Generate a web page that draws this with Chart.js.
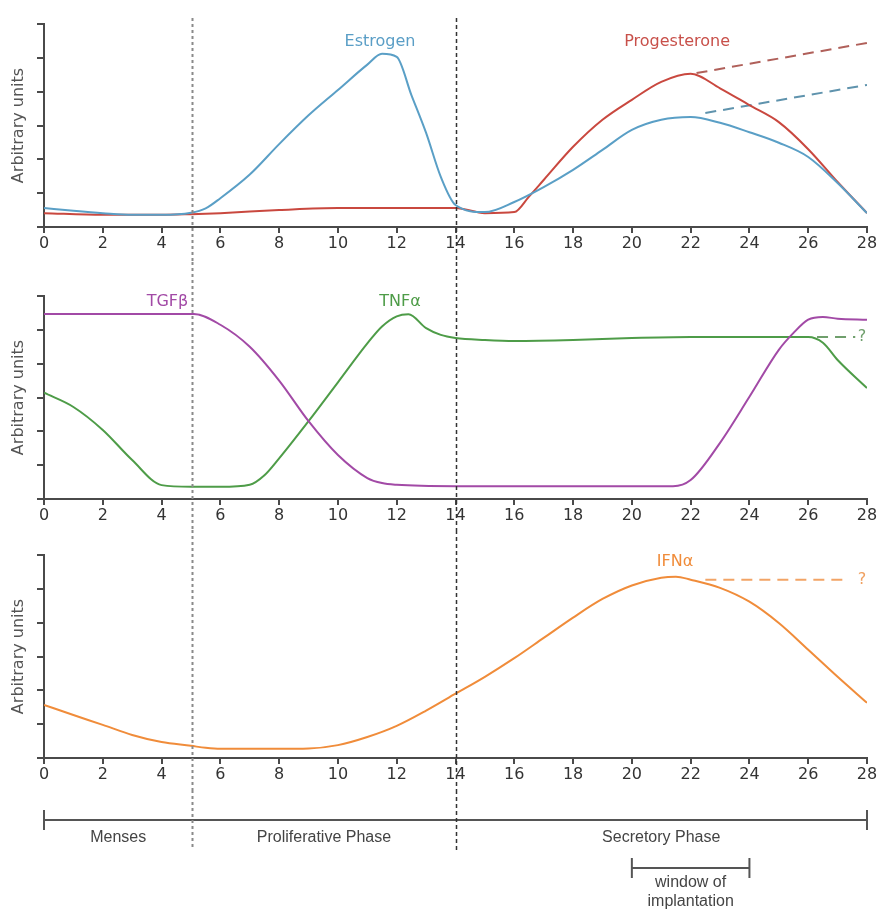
<!DOCTYPE html>
<html><head><meta charset="utf-8">
<script src="https://cdn.jsdelivr.net/npm/chart.js@4/dist/chart.umd.min.js"></script>
<style>
html,body{margin:0;padding:0;background:#fff;width:881px;height:913px;overflow:hidden}
canvas{position:absolute;left:0;display:block}
</style></head><body>
<canvas id="c1" style="top:0px" width="881" height="262"></canvas>
<canvas id="c2" style="top:262px" width="881" height="268"></canvas>
<canvas id="c3" style="top:530px" width="881" height="260"></canvas>
<canvas id="c4" style="top:790px" width="881" height="123"></canvas>
<script>
// ---------- data (day of cycle, arbitrary units 0..6) ----------
const estrogenX = [0,1,2,3,4,5,5.5,6,7,8,9,10,11,11.5,12,12.5,13,13.5,14,15,16,17,18,19,20,21,22,23,24,25,26,27,28];
const estrogenY = [0.56,0.48,0.41,0.36,0.36,0.42,0.55,0.85,1.55,2.45,3.3,4.05,4.8,5.12,5.03,3.9,2.78,1.48,0.65,0.44,0.74,1.18,1.69,2.28,2.87,3.17,3.25,3.08,2.8,2.49,2.07,1.30,0.41];
const estrogenDashX = [22.5,28];
const estrogenDashY = [3.37,4.2];

const progesteroneX = [0,2,4,5,6,8,10,12,14,15,16,16.5,17,18,19,20,21,22,23,24,25,26,27,28];
const progesteroneY = [0.41,0.36,0.36,0.38,0.41,0.5,0.56,0.56,0.56,0.41,0.44,0.9,1.39,2.37,3.17,3.76,4.29,4.53,4.1,3.6,3.1,2.3,1.33,0.41];
const progesteroneDashX = [22.2,28];
const progesteroneDashY = [4.55,5.44];

const tgfX = [0,2,4,5.1,6,7,8,9,10,11,11.5,12,14,16,18,20,21.4,22,23,24,25,25.5,26,26.5,27,28];
const tgfY = [5.47,5.47,5.47,5.47,5.15,4.5,3.5,2.3,1.3,0.62,0.47,0.42,0.38,0.38,0.38,0.38,0.38,0.56,1.66,3.02,4.41,4.91,5.3,5.38,5.33,5.3];

const tnfX = [0,1,2,3,4,5,6,7,7.5,8,9,10,11,11.5,12,12.4,13,13.5,14,15,16,18,20,22,24,26,26.5,27,28];
const tnfY = [3.14,2.72,2.04,1.15,0.41,0.36,0.36,0.42,0.7,1.2,2.3,3.45,4.6,5.1,5.4,5.46,5.05,4.85,4.76,4.7,4.67,4.7,4.76,4.79,4.79,4.79,4.62,4.11,3.28];
const tnfDashX = [26.3,27.6];
const tnfDashY = [4.79,4.79];

const ifnX = [0,1,2,3,4,5,5.5,6,7,8,9,10,11,12,13,14,15,16,17,18,19,20,21,21.5,22,23,24,25,26,27,28];
const ifnY = [1.57,1.27,0.98,0.68,0.47,0.36,0.30,0.27,0.27,0.27,0.28,0.38,0.62,0.95,1.4,1.9,2.4,2.95,3.55,4.15,4.7,5.1,5.33,5.36,5.27,5.03,4.62,3.99,3.2,2.4,1.63];
const ifnDashX = [22.5,27.4];
const ifnDashY = [5.27,5.27];

const phaseNames = ['Menses','Proliferative Phase','Secretory Phase'];
const phaseBounds = [0,5.05,14,28];
const windowDays = [20,24];
const windowText = ['window of','implantation'];
const xTickStep = 2;

// ---------- helpers ----------
const pts = (xs, ys) => xs.map((x, i) => ({x, y: ys[i]}));
const AXIS = '#4a4a4a';
const FONT = 'DejaVu Sans';

function solid(xs, ys, color) {
  return {data: pts(xs, ys), borderColor: color, borderWidth: 2, pointRadius: 0,
          tension: 0.4, cubicInterpolationMode: 'monotone', fill: false};
}
function dashed(xs, ys, color) {
  return {data: pts(xs, ys), borderColor: color, borderWidth: 2, pointRadius: 0,
          borderDash: [11, 7], tension: 0, fill: false};
}

function phaseLines(chart, y0, y1) {
  const ctx = chart.ctx, xs = chart.scales.x;
  ctx.save();
  let px = Math.round(xs.getPixelForValue(phaseBounds[1])) + 0.5;
  ctx.strokeStyle = '#8a8a8a'; ctx.lineWidth = 2; ctx.setLineDash([3, 3]);
  ctx.beginPath(); ctx.moveTo(px, y0); ctx.lineTo(px, y1); ctx.stroke();
  px = Math.round(xs.getPixelForValue(phaseBounds[2])) + 0.5;
  ctx.strokeStyle = '#333'; ctx.lineWidth = 1.5; ctx.setLineDash([4, 3]);
  ctx.beginPath(); ctx.moveTo(px, y0); ctx.lineTo(px, y1); ctx.stroke();
  ctx.restore();
}

function overlay(labels, y0, y1) {
  return {
    id: 'overlay',
    afterDraw(chart) {
      phaseLines(chart, y0, y1);
      const ctx = chart.ctx, xs = chart.scales.x, ys = chart.scales.y;
      ctx.save();
      ctx.textAlign = 'center'; ctx.textBaseline = 'middle';
      labels.forEach(l => {
        ctx.fillStyle = l.color;
        ctx.font = (l.weight || 'normal') + ' ' + (l.size || 16) + 'px "' + FONT + '"';
        ctx.fillText(l.text, xs.getPixelForValue(l.x), ys.getPixelForValue(l.y));
      });
      ctx.restore();
    }
  };
}

function makePanel(id, datasets, labels, cfg) {
  return new Chart(document.getElementById(id), {
    type: 'line',
    data: {datasets},
    options: {
      responsive: false, animation: false, devicePixelRatio: 1,
      layout: {padding: {top: cfg.top, right: 14, left: 0, bottom: 0}},
      plugins: {legend: {display: false}, tooltip: {enabled: false}},
      scales: {
        x: {
          type: 'linear', min: 0, max: 28,
          afterFit: s => { s.height = cfg.xh; },
          ticks: {stepSize: xTickStep, color: '#333', font: {family: FONT, size: 16}, padding: 1, maxRotation: 0, autoSkip: false},
          grid: {display: true, drawOnChartArea: false, drawTicks: true, tickLength: 6, color: AXIS, lineWidth: 2},
          border: {display: true, color: AXIS, width: 2}
        },
        y: {
          type: 'linear', min: 0, max: 6,
          afterFit: s => { s.width = 44; },
          ticks: {stepSize: 1, display: false},
          grid: {display: true, drawOnChartArea: false, drawTicks: true, tickLength: 7, color: AXIS, lineWidth: 2},
          border: {display: true, color: AXIS, width: 2},
          title: {display: true, text: 'Arbitrary units', color: '#555', font: {family: FONT, size: 16}, padding: {top: 9, bottom: 0}}
        }
      }
    },
    plugins: [overlay(labels, cfg.y0, cfg.y1)]
  });
}

// ---------- panel 1: hormones ----------
makePanel('c1', [
  solid(estrogenX, estrogenY, '#5a9fc6'),
  solid(progesteroneX, progesteroneY, '#c9483f'),
  dashed(progesteroneDashX, progesteroneDashY, '#b0605a'),
  dashed(estrogenDashX, estrogenDashY, '#5f93ad')
], [
  {text: 'Estrogen', x: 11.43, y: 5.47, color: '#5a9ec6'},
  {text: 'Progesterone', x: 21.54, y: 5.47, color: '#c8504a'}
], {top: 24, xh: 35, y0: 18, y1: 262});

// ---------- panel 2: TGFβ / TNFα ----------
makePanel('c2', [
  solid(tgfX, tgfY, '#a24aa6'),
  solid(tnfX, tnfY, '#4e9c48'),
  dashed(tnfDashX, tnfDashY, '#6f9f6c')
], [
  {text: 'TGFβ', x: 4.2, y: 5.83, color: '#a24aa6'},
  {text: 'TNFα', x: 12.11, y: 5.83, color: '#4e9c48'},
  {text: '?', x: 27.83, y: 4.79, color: '#6f9f6c'}
], {top: 34, xh: 31, y0: 0, y1: 268});

// ---------- panel 3: IFNα ----------
makePanel('c3', [
  solid(ifnX, ifnY, '#f08c3a'),
  dashed(ifnDashX, ifnDashY, '#f2a466')
], [
  {text: 'IFNα', x: 21.47, y: 5.8, color: '#f08c3a'},
  {text: '?', x: 27.83, y: 5.27, color: '#f0a060'}
], {top: 25, xh: 32, y0: 0, y1: 260});

// ---------- timeline ----------
new Chart(document.getElementById('c4'), {
  type: 'line',
  data: {datasets: [
    {data: pts([phaseBounds[0], phaseBounds[3]], [0, 0]), borderColor: '#555', borderWidth: 2, tension: 0,
     pointStyle: 'line', pointRotation: 90, pointRadius: 10, pointBorderWidth: 2, pointBorderColor: '#555', clip: false},
    {data: pts(windowDays, [-1, -1]), borderColor: '#555', borderWidth: 2, tension: 0,
     pointStyle: 'line', pointRotation: 90, pointRadius: 10, pointBorderWidth: 2, pointBorderColor: '#555', clip: false}
  ]},
  options: {
    responsive: false, animation: false, devicePixelRatio: 1,
    layout: {padding: {top: 20, right: 14, left: 44, bottom: 35}},
    plugins: {legend: {display: false}, tooltip: {enabled: false}},
    scales: {
      x: {type: 'linear', min: 0, max: 28, display: false},
      y: {type: 'linear', min: -1.208, max: 0.208, display: false}
    }
  },
  plugins: [{
    id: 'timelineText',
    afterDraw(chart) {
      phaseLines(chart, 0, 60);
      const ctx = chart.ctx, xs = chart.scales.x, ys = chart.scales.y;
      ctx.save();
      ctx.fillStyle = '#444'; ctx.textAlign = 'center'; ctx.textBaseline = 'middle';
      ctx.font = '16px "Liberation Sans"';
      const y0 = ys.getPixelForValue(0);
      phaseNames.forEach((n, i) => {
        const cx = (xs.getPixelForValue(phaseBounds[i]) + xs.getPixelForValue(phaseBounds[i + 1])) / 2;
        ctx.fillText(n, cx, y0 + 18);
      });
      const wy = ys.getPixelForValue(-1);
      const wx = (xs.getPixelForValue(windowDays[0]) + xs.getPixelForValue(windowDays[1])) / 2;
      ctx.fillText(windowText[0], wx, wy + 15);
      ctx.fillText(windowText[1], wx, wy + 34);
      ctx.restore();
    }
  }]
});
</script>
</body></html>
